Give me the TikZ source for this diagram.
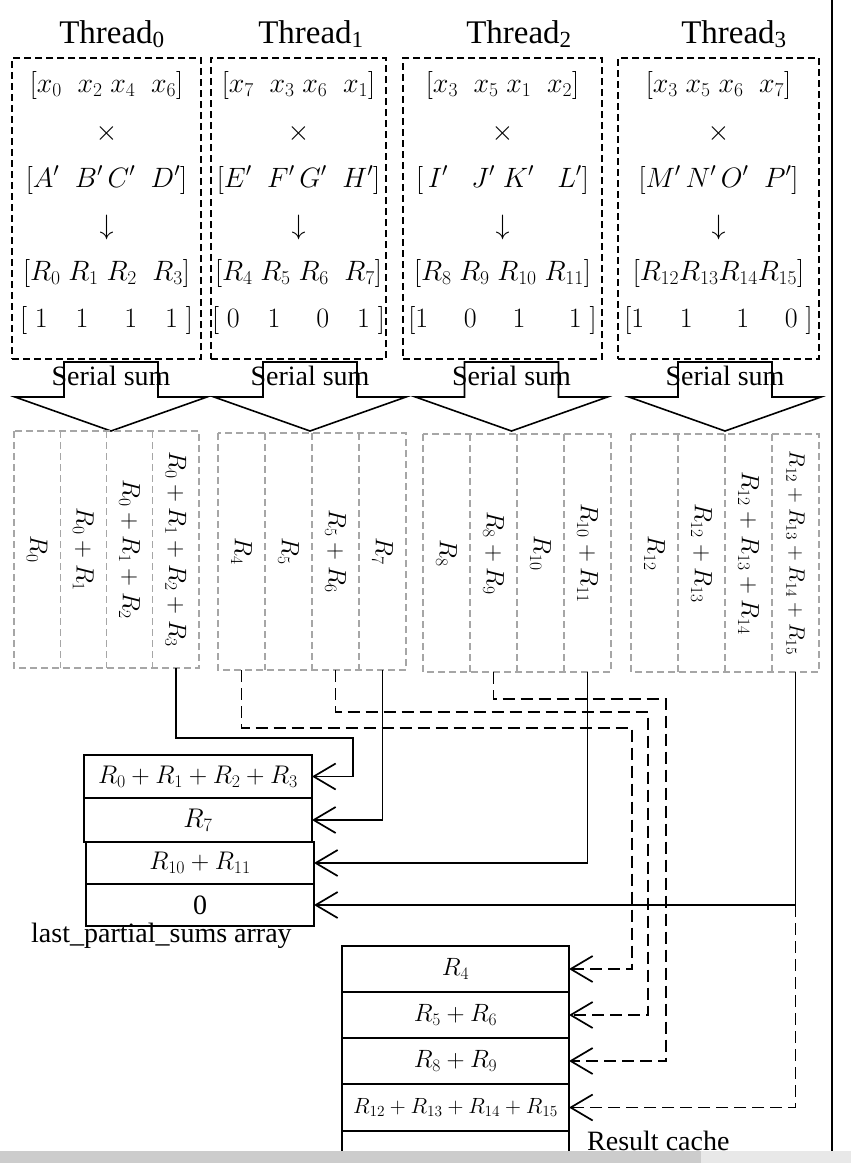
\RequirePackage{fix-cm}
\documentclass[tikz,border=0pt]{standalone}
\usepackage{fontspec}
\setmainfont{Liberation Serif}
\usetikzlibrary{arrows.meta}
\newcommand\myfs[1]{\fontsize{#1}{#1}\selectfont}
\begin{document}
\begin{tikzpicture}[x=1pt,y=-1pt,
  tbox/.style={draw, dash pattern=on 7pt off 4pt, line width=1.5pt, inner sep=0pt, outer sep=0pt},
  gcol/.style={inner sep=0pt, outer sep=0pt, minimum height=#1},
  gline/.style={draw=gray!70, dash pattern=on 7pt off 4pt, line width=1.3pt},
  cell/.style={draw, line width=1.8pt, inner sep=0pt, outer sep=0pt},
  conn/.style={line width=1.7pt},
  dconn/.style={line width=1.7pt, dash pattern=on 12pt off 6pt},
  tip/.style={-{Straight Barb[length=22pt,width=26pt]}},
  title/.style={anchor=base, inner sep=0pt, font=\myfs{33}},
  row/.style={inner sep=0pt, font=\myfs{28}},
  rot/.style={inner sep=0pt, rotate=-90, font=\myfs{25}},
  lbl/.style={inner sep=0pt, font=\myfs{28}},
  barrow/.style={line width=1.6pt, line join=miter}
]
\useasboundingbox (0,0) rectangle (851,1163);

% titles
\node[title] (h0) at (112,43) {Thread\textsubscript{0}};
\node[title] (h1) at (311,43) {Thread\textsubscript{1}};
\node[title] (h2) at (519,43) {Thread\textsubscript{2}};
\node[title] (h3) at (734,43) {Thread\textsubscript{3}};

% thread boxes
\node[tbox, minimum width=189pt, minimum height=301pt] (t0) at (106.5,208.5) {};
\node[tbox, minimum width=175pt, minimum height=301pt] (t1) at (298.5,208.5) {};
\node[tbox, minimum width=199pt, minimum height=301pt] (t2) at (502.5,208.5) {};
\node[tbox, minimum width=201pt, minimum height=301pt] (t3) at (718.5,208.5) {};

% rows thread 0
\node[row] (a0) at (106.5,85) {$[x_0\;\;x_2\;x_4\;\;x_6]$};
\node[row] (a1) at (106.5,133) {$\times$};
\node[row] (a2) at (106.5,180) {$[A'\;\;B'\,C'\;\;D']$};
\node[row] (a3) at (106.5,227) {$\downarrow$};
\node[row] (a4) at (106.5,273) {$[R_0\;R_1\;R_2\;\;R_3]$};
\node[row] (a5) at (106.5,320) {$[\;1\quad1\quad\;1\quad1\;]$};
% rows thread 1
\node[row] (b0) at (298.5,85) {$[x_7\;\;x_3\;x_6\;\;x_1]$};
\node[row] (b1) at (298.5,133) {$\times$};
\node[row] (b2) at (298.5,180) {$[E'\;\;F'\,G'\;\;H']$};
\node[row] (b3) at (298.5,227) {$\downarrow$};
\node[row] (b4) at (298.5,273) {$[R_4\;R_5\;R_6\;\;R_7]$};
\node[row] (b5) at (298.5,320) {$[\;0\quad1\quad\;0\quad1\;]$};
% rows thread 2
\node[row] (d0) at (502.5,85) {$[x_3\;\;x_5\;x_1\;\;x_2]$};
\node[row] (d1) at (502.5,133) {$\times$};
\node[row] (d2) at (502.5,180) {$[\,I'\;\;\;J'\;K'\;\;\;L']$};
\node[row] (d3) at (502.5,227) {$\downarrow$};
\node[row] (d4) at (502.5,273) {$[R_8\;R_9\;R_{10}\;R_{11}]$};
\node[row] (d5) at (502.5,320) {$[1\quad\;0\quad\;1\quad\;\;1\;]$};
% rows thread 3
\node[row] (e0) at (718.5,85) {$[x_3\;x_5\;x_6\;\;x_7]$};
\node[row] (e1) at (718.5,133) {$\times$};
\node[row] (e2) at (718.5,180) {$[M'\,N'\,O'\;\;P']$};
\node[row] (e3) at (718.5,227) {$\downarrow$};
\node[row] (e4) at (718.5,273) {$[R_{12}R_{13}R_{14}R_{15}]$};
\node[row] (e5) at (718.5,320) {$[1\quad\;1\quad\;\;1\quad\;0\;]$};

% serial sum block arrows
\foreach \c/\n in {111/0,310/1,511.5/2,725/3}{
  \draw[barrow] (\c-47,362) -- (\c+47,362) -- (\c+47,397) -- (\c+96,397) -- (\c,431) -- (\c-96,397) -- (\c-47,397) -- cycle;
  \node[lbl, anchor=base] (s\n) at (\c,385) {Serial sum};
}

% partial sum columns (anchors)
\foreach \i in {0,...,3}{
  \node[gcol=237pt, minimum width=46.25pt] (c0\i) at (14+46.25*\i+23.125,549.5) {};
  \node[gcol=237pt, minimum width=47pt] (c1\i) at (218+47*\i+23.5,551.5) {};
  \node[gcol=238pt, minimum width=47pt] (c2\i) at (423+47*\i+23.5,553) {};
  \node[gcol=238pt, minimum width=47pt] (c3\i) at (631+47*\i+23.5,553) {};
}
% gray dashed outlines and dividers
\foreach \g in {0,...,3}{
  \draw[gline] (c\g0.north west) rectangle (c\g3.south east);
  \foreach \i in {0,1,2}{
    \draw[gline] (c\g\i.north east) -- (c\g\i.south east);
  }
}
\node[rot] (p00) at (c00.center) {$R_0$};
\node[rot] (p01) at (c01.center) {$R_0+R_1$};
\node[rot] (p02) at (c02.center) {$R_0+R_1+R_2$};
\node[rot] (p03) at (c03.center) {$R_0+R_1+R_2+R_3$};
\node[rot] (p10) at (c10.center) {$R_4$};
\node[rot] (p11) at (c11.center) {$R_5$};
\node[rot] (p12) at (c12.center) {$R_5+R_6$};
\node[rot] (p13) at (c13.center) {$R_7$};
\node[rot] (p20) at (c20.center) {$R_8$};
\node[rot] (p21) at (c21.center) {$R_8+R_9$};
\node[rot] (p22) at (c22.center) {$R_{10}$};
\node[rot] (p23) at (c23.center) {$R_{10}+R_{11}$};
\node[rot] (p30) at (c30.center) {$R_{12}$};
\node[rot] (p31) at (c31.center) {$R_{12}+R_{13}$};
\node[rot] (p32) at (c32.center) {$R_{12}+R_{13}+R_{14}$};
\node[rot, font=\myfs{22}] (p33) at (c33.center) {$R_{12}+R_{13}+R_{14}+R_{15}$};

% last partial sums array
\node[cell, minimum width=228pt, minimum height=43pt, font=\myfs{25.5}] (lp1) at (198,776.5) {$R_0+R_1+R_2+R_3$};
\node[cell, minimum width=228pt, minimum height=44pt, font=\myfs{27}] (lp2) at (198,820) {$R_7$};
\node[cell, minimum width=228pt, minimum height=42pt, font=\myfs{25.5}] (lp3) at (200,863) {$R_{10}+R_{11}$};
\node[cell, minimum width=228pt, minimum height=42pt, font=\myfs{28}] (lp4) at (200,905) {0};
\node[lbl, anchor=base west] (lpl) at (31,942) {last\_partial\_sums array};

% result cache
\node[cell, minimum width=227pt, minimum height=46pt, font=\myfs{25}] (rc1) at (455.5,969) {$R_4$};
\node[cell, minimum width=227pt, minimum height=46pt, font=\myfs{25}] (rc2) at (455.5,1015) {$R_5+R_6$};
\node[cell, minimum width=227pt, minimum height=46pt, font=\myfs{25}] (rc3) at (455.5,1061) {$R_8+R_9$};
\node[cell, minimum width=227pt, minimum height=47pt, font=\myfs{22}] (rc4) at (455.5,1107.5) {$R_{12}+R_{13}+R_{14}+R_{15}$};
\node[cell, minimum width=227pt, minimum height=24pt] (rc5) at (455.5,1143) {};
\node[lbl, anchor=base west] (rcl) at (587,1150) {Result cache};

% connectors
\coordinate (k1) at (353,738);
\draw[conn,tip] (c03.south) |- (k1) |- (lp1.east);
\draw[conn,tip] (c13.south) |- (lp2.east);
\draw[conn,tip] (c23.south) |- (lp3.east);
\draw[conn,tip] (c33.south) |- (lp4.east);
\coordinate (j3) at (c33.south |- lp4.east);
\draw[dconn,tip] (j3) |- (rc4.east);
\coordinate (k2) at (632,728);
\draw[dconn,tip] (c10.south) |- (k2) |- (rc1.east);
\coordinate (k3) at (648,712);
\draw[dconn,tip] (c12.south) |- (k3) |- (rc2.east);
\coordinate (k4) at (666,699);
\draw[dconn,tip] (c21.south) |- (k4) |- (rc3.east);

% right border line
\draw[line width=2pt] (832,0) -- (832,1151);

% bottom strip
\fill[gray!40] (0,1151) rectangle (701,1163);
\fill[gray!18] (701,1151) rectangle (851,1163);
\end{tikzpicture}
\end{document}
